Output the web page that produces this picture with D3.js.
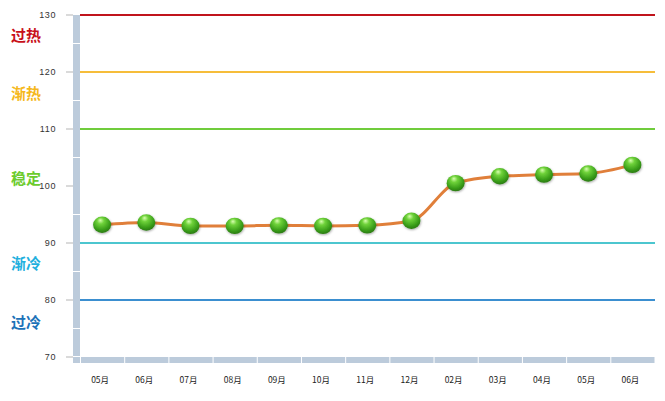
<!DOCTYPE html>
<html><head><meta charset="utf-8">
<script src="https://cdn.jsdelivr.net/npm/d3@7"></script>
<style>body{margin:0;background:#fff}svg{display:block}</style>
</head><body><svg id="c" width="665" height="401"></svg>
<script>
const months = ["05月","06月","07月","08月","09月","10月","11月","12月","02月","03月","04月","05月","06月"];
const values = [93.2,93.6,93.0,93.0,93.1,93.0,93.1,93.9,100.5,101.7,102.0,102.2,103.7];
const yTicks = [70,80,90,100,110,120,130];
const levelValues = [130,120,110,90,80];
const levelColors = ["#c0141c","#f6bd3a","#70cc3c","#4cc6cf","#3b8fd0"];
const zoneLabels = ["过热","渐热","稳定","渐冷","过冷"];
const zoneValues = [126.5,116.3,101.4,86.5,76.1];
const zoneColors = ["#c8101a","#f5b81c","#6ccb2e","#1fb0de","#1c72b8"];

const svg = d3.select("#c");
const x0 = 80, x1 = 654.5, yTop = 15, yBot = 357;
const y = d3.scaleLinear().domain([70,130]).range([yBot,yTop]);
const x = d3.scaleBand().domain(d3.range(months.length)).range([x0,x1]).padding(0);
const barCol = "#bccbdb";

const defs = svg.append("defs");
const g = defs.append("radialGradient").attr("id","ball").attr("cx","45%").attr("cy","35%").attr("r","65%").attr("fx","40%").attr("fy","22%");
g.append("stop").attr("offset","0%").attr("stop-color","#d8ffb0");
g.append("stop").attr("offset","30%").attr("stop-color","#6fd23a");
g.append("stop").attr("offset","75%").attr("stop-color","#3a9e1a");
g.append("stop").attr("offset","100%").attr("stop-color","#2a7a10");
const f = defs.append("filter").attr("id","sh").attr("x","-50%").attr("y","-50%").attr("width","200%").attr("height","200%");
f.append("feDropShadow").attr("dx",0.5).attr("dy",1).attr("stdDeviation",0.8).attr("flood-color","#000").attr("flood-opacity",0.35);

// vertical axis bar segments (gaps at midpoints between ticks)
const mids = d3.range(70,130,10).map(v=>v+5);
const vEdges = [130,...mids.slice().reverse(),70];
for (let i=0;i<vEdges.length-1;i++){
  const ya = y(vEdges[i]) + (i===0?0:0.5), yb = y(vEdges[i+1]) - (i===vEdges.length-2?1:0.5);
  svg.append("rect").attr("x",73).attr("y",ya).attr("width",7).attr("height",yb-ya).attr("fill",barCol);
}
// corner
svg.append("rect").attr("x",73).attr("y",yBot).attr("width",7).attr("height",6).attr("fill",barCol);
// horizontal bar segments
months.forEach((m,i)=>{
  svg.append("rect").attr("x",x(i)+1).attr("y",yBot).attr("width",x.bandwidth()-1).attr("height",6).attr("fill",barCol);
});

// y ticks
const yAxis = svg.append("g");
yTicks.forEach(v=>{
  yAxis.append("line").attr("x1",66).attr("x2",73).attr("y1",y(v)).attr("y2",y(v)).attr("stroke","#b5b5b5").attr("stroke-width",1);
  yAxis.append("text").attr("x",56).attr("y",y(v)).attr("dy","0.35em").attr("text-anchor","end")
    .attr("font-family","Liberation Sans, Arial, sans-serif").attr("font-size",9).attr("fill","#333")
    .attr("letter-spacing","0.6px").text(v);
});

// level lines
levelValues.forEach((v,i)=>{
  svg.append("line").attr("x1",x0).attr("x2",655).attr("y1",y(v)).attr("y2",y(v))
    .attr("stroke",levelColors[i]).attr("stroke-width",2);
});

// zone labels
zoneLabels.forEach((t,i)=>{
  svg.append("text").attr("x",11).attr("y",y(zoneValues[i])).attr("dy","0.38em")
    .attr("font-family","Noto Sans CJK SC, sans-serif").attr("font-weight","bold").attr("font-size",15)
    .attr("fill",zoneColors[i]).text(t);
});

// month labels
months.forEach((m,i)=>{
  svg.append("text").attr("x",x(i)+x.bandwidth()/2-2).attr("y",380).attr("dy","0.35em").attr("text-anchor","middle")
    .attr("font-family","Noto Sans CJK SC, Liberation Sans, sans-serif").attr("font-size",8.5).attr("fill","#222").text(m);
});

// line
const line = d3.line().x((d,i)=>x(i)+x.bandwidth()/2).y(d=>y(d)).curve(d3.curveMonotoneX);
svg.append("path").attr("d",line(values)).attr("fill","none").attr("stroke","#e07f3a").attr("stroke-width",3).attr("stroke-linejoin","round");

// points
svg.selectAll(".pt").data(values).enter().append("ellipse")
  .attr("cx",(d,i)=>x(i)+x.bandwidth()/2).attr("cy",d=>y(d)).attr("rx",9).attr("ry",8.2)
  .attr("fill","url(#ball)").attr("filter","url(#sh)");
</script></body></html>
